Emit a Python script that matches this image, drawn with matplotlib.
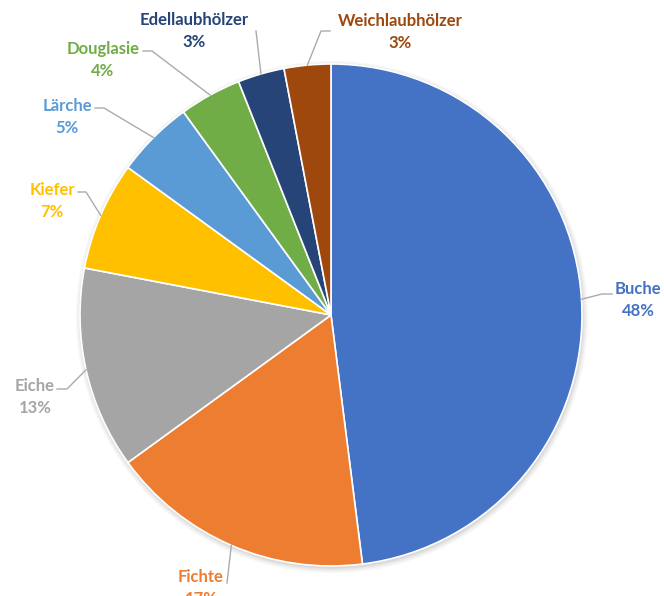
import matplotlib.pyplot as plt
import numpy as np
from matplotlib.patches import Circle

# data
species = ["Buche", "Fichte", "Eiche", "Kiefer", "Lärche", "Douglasie",
           "Edellaubhölzer", "Weichlaubhölzer"]
shares = [48, 17, 13, 7, 5, 4, 3, 3]
colors = ["#4472C4", "#ED7D31", "#A5A5A5", "#FFC000", "#5B9BD5", "#70AD47",
          "#264478", "#9E480E"]

W, H = 664, 596
CX, CY, R = 331, 315, 251

# label layout in pixel coords (y down): text centre, leader polyline after arc point
label_pos = [(638, 300), (201, 588), (35, 397), (52, 201), (67, 117), (103, 60),
             (194, 31), (400, 32)]
leader_pts = [
    [(602, 294), (612, 294)],
    [(227, 583)],
    [(67, 389), (57, 389)],
    [(86, 192), (78, 192)],
    [(104, 108), (95, 108)],
    [(152, 51), (143, 51)],
    [(256, 31)],
    [(321, 31), (330, 31)],
]


def py(y):
    return H - y


fig = plt.figure(figsize=(W / 100, H / 100), dpi=100)
ax = fig.add_axes([0, 0, 1, 1])

# soft shadow
for k, a in enumerate([0.03, 0.03, 0.04, 0.05]):
    ax.add_patch(Circle((CX + 1, py(CY) - 2), R + 5 - k * 1.5, color="black",
                        alpha=a, lw=0, zorder=0))

wedges, _ = ax.pie(shares, colors=colors, startangle=90, counterclock=False,
                   center=(CX, py(CY)), radius=R,
                   wedgeprops=dict(edgecolor="white", linewidth=1.2))

total = sum(shares)
cum = 0
for name, val, col, (tx, ty), pts in zip(species, shares, colors, label_pos, leader_pts):
    mid = (cum + val / 2) / total
    cum += val
    ang = np.deg2rad(90 - 360 * mid)
    ax_pt = (CX + R * np.cos(ang), CY - R * np.sin(ang))
    line = [ax_pt] + pts
    ax.plot([p[0] for p in line], [py(p[1]) for p in line], color="#ABABAB",
            lw=1.0, zorder=3)
    ax.text(tx, py(ty), f"{name}\n{val}%", color=col, ha="center", va="center",
            fontsize=12, fontweight="bold", family="Lato", linespacing=1.4,
            zorder=4)

ax.set_xlim(0, W)
ax.set_ylim(0, H)
ax.set_aspect("auto")
ax.axis("off")

plt.savefig("out.png", dpi=100)
plt.close()
